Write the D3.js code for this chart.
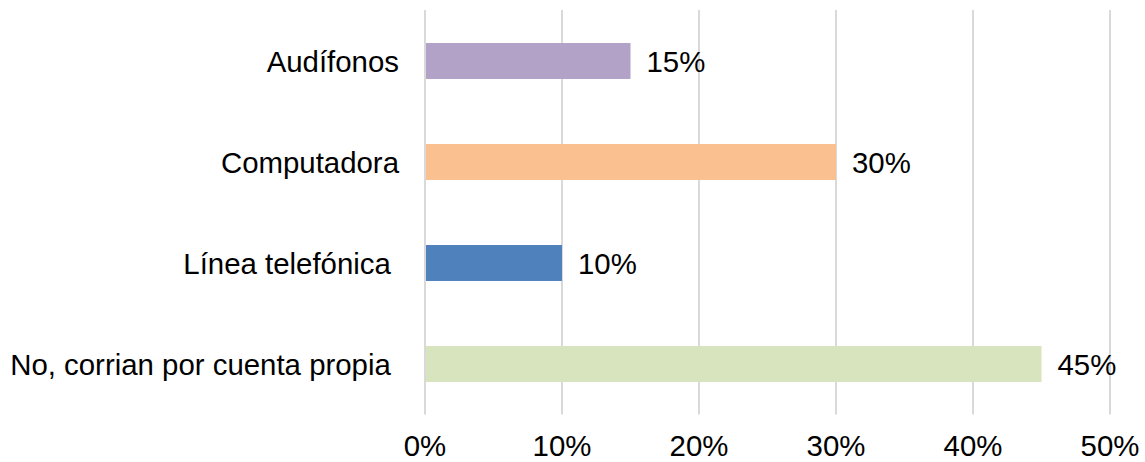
<!DOCTYPE html>
<html>
<head>
<meta charset="utf-8">
<script src="https://cdn.jsdelivr.net/npm/d3@7"></script>
<style>
  body { margin: 0; background: #fff; }
  text { font-family: "Liberation Sans", Arial, sans-serif; fill: #000; white-space: pre; }
</style>
</head>
<body>
<div id="chart"></div>
<script>
var categories = ["Audífonos", "Computadora", "Línea telefónica ", "No, corrian por cuenta propia "];
var values     = [0.15, 0.30, 0.10, 0.45];
var colors     = ["#B3A2C7", "#FAC090", "#4F81BD", "#D7E4BD"];
var ticks      = [0, 0.1, 0.2, 0.3, 0.4, 0.5];

var chart = {
  width:  1145,
  height: 462,
  left:   425,
  right:  1110,
  top:    10.5,
  bottom: 414.5,
  font:   "29.4px"
};

var svg = d3.select("#chart").append("svg")
  .attr("width", chart.width)
  .attr("height", chart.height);

var x = d3.scaleLinear()
  .domain([0, 0.5])
  .range([chart.left, chart.right]);

var y = d3.scaleBand()
  .domain(categories)
  .range([chart.top, chart.bottom])
  .paddingInner(0.644)
  .paddingOuter(0.322);

var fmt = d3.format(".0%");

// gridlines
svg.append("g")
  .selectAll("line")
  .data(ticks)
  .enter().append("line")
  .attr("x1", function(d) { return x(d); })
  .attr("x2", function(d) { return x(d); })
  .attr("y1", chart.top - 0.5)
  .attr("y2", chart.bottom)
  .style("stroke", "#D9D9D9")
  .style("stroke-width", 2);

// bars
svg.append("g")
  .selectAll("rect")
  .data(values)
  .enter().append("rect")
  .attr("x", x(0) + 1)
  .attr("y", function(d, i) { return y(categories[i]); })
  .attr("width", function(d) { return x(d) - x(0) - 1; })
  .attr("height", y.bandwidth())
  .style("fill", function(d, i) { return colors[i]; });

// value labels
svg.append("g")
  .selectAll("text")
  .data(values)
  .enter().append("text")
  .attr("x", function(d) { return x(d) + 16; })
  .attr("y", function(d, i) { return y(categories[i]) + y.bandwidth() / 2 + 10.5; })
  .style("font-size", chart.font)
  .text(function(d) { return fmt(d); });

// category labels
svg.append("g")
  .selectAll("text")
  .data(categories)
  .enter().append("text")
  .attr("x", 399)
  .attr("y", function(d) { return y(d) + y.bandwidth() / 2 + 10.5; })
  .attr("text-anchor", "end")
  .style("font-size", chart.font)
  .text(function(d) { return d; });

// x tick labels
svg.append("g")
  .selectAll("text")
  .data(ticks)
  .enter().append("text")
  .attr("x", function(d) { return x(d); })
  .attr("y", 456)
  .attr("text-anchor", "middle")
  .style("font-size", chart.font)
  .text(function(d) { return fmt(d); });
</script>
</body>
</html>
